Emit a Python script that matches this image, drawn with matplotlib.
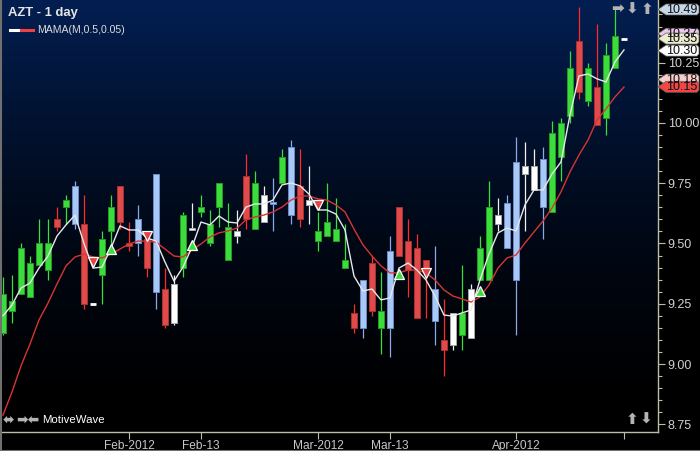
import numpy as np
import matplotlib
matplotlib.use("Agg")
import matplotlib.pyplot as plt
from matplotlib.patches import Polygon
from matplotlib.lines import Line2D

OUTPUT = "out.png"

# daily bars, one per weekday from mid Jan 2012
OPENS = [9.13, 9.22, 9.29, 9.28, 9.41, 9.39, 9.60, 9.65, 9.74, 9.58,
         9.25, 9.37, 9.55, 9.74, 9.50, 9.60, 9.52, 9.79, 9.31, 9.17,
         9.40, 9.555, 9.63, 9.50, 9.65, 9.43, 9.53, 9.78, 9.56, 9.59,
         9.672, 9.75, 9.90, 9.74, 9.66, 9.51, 9.53, 9.51, 9.40, 9.21,
         9.35, 9.42, 9.15, 9.47, 9.65, 9.51, 9.48, 9.43, 9.31, 9.10,
         9.08, 9.12, 9.11, 9.35, 9.35, 9.58, 9.67, 9.84, 9.79, 9.72,
         9.85, 9.63, 9.86, 10.03, 10.34, 10.09, 10.15, 10.02, 10.23, 10.35]
HIGHS = [9.36, 9.37, 9.50, 9.45, 9.60, 9.60, 9.65, 9.70, 9.76, 9.70,
         9.25, 9.55, 9.70, 9.74, 9.59, 9.66, 9.54, 9.79, 9.40, 9.37,
         9.63, 9.67, 9.70, 9.64, 9.75, 9.67, 9.64, 9.87, 9.80, 9.74,
         9.77, 9.89, 9.93, 9.89, 9.82, 9.63, 9.75, 9.69, 9.58, 9.25,
         9.35, 9.45, 9.38, 9.53, 9.65, 9.60, 9.54, 9.43, 9.49, 9.27,
         9.21, 9.41, 9.33, 9.53, 9.76, 9.69, 9.70, 9.94, 9.92, 9.89,
         9.90, 10.01, 10.02, 10.30, 10.48, 10.25, 10.41, 10.33, 10.48, 10.35]
LOWS = [9.12, 9.17, 9.29, 9.28, 9.41, 9.35, 9.55, 9.58, 9.56, 9.23,
        9.25, 9.25, 9.47, 9.56, 9.47, 9.45, 9.36, 9.23, 9.15, 9.16,
        9.36, 9.555, 9.61, 9.49, 9.57, 9.43, 9.50, 9.56, 9.56, 9.59,
        9.55, 9.75, 9.58, 9.57, 9.58, 9.47, 9.53, 9.51, 9.40, 9.13,
        9.11, 9.20, 9.04, 9.03, 9.45, 9.28, 9.19, 9.19, 9.08, 8.95,
        9.06, 9.06, 9.11, 9.35, 9.35, 9.55, 9.48, 9.12, 9.55, 9.72,
        9.52, 9.63, 9.76, 10.00, 10.10, 10.07, 9.99, 9.95, 10.23, 10.35]
CLOSES = [9.29, 9.26, 9.48, 9.42, 9.50, 9.50, 9.57, 9.68, 9.58, 9.25,
          9.25, 9.52, 9.65, 9.59, 9.49, 9.50, 9.40, 9.30, 9.16, 9.33,
          9.62, 9.565, 9.65, 9.58, 9.75, 9.57, 9.55, 9.60, 9.75, 9.70,
          9.664, 9.86, 9.62, 9.60, 9.68, 9.55, 9.59, 9.56, 9.43, 9.15,
          9.15, 9.22, 9.22, 9.15, 9.45, 9.39, 9.19, 9.39, 9.18, 9.06,
          9.21, 9.21, 9.31, 9.48, 9.65, 9.62, 9.48, 9.35, 9.82, 9.82,
          9.65, 9.96, 10.00, 10.23, 10.13, 10.23, 9.99, 10.28, 10.36, 10.35]
# bar colouring: G green, R red, B blue, W white
KINDS = list("GGGGGGRGBR" "WGGRRBRBRW" "GWGGGGWRGW" "BGBRWGGGGR"
             "BRGBRRRRBR" "WGWGGWBBWW" "BGGGRGRGGW")

MAMA = [9.20, 9.245, 9.315, 9.336, 9.398, 9.448, 9.531, 9.577, 9.618, 9.50,
        9.398, 9.402, 9.481, 9.573, 9.556, 9.556, 9.523, 9.510, 9.423, 9.344,
        9.402, 9.485, 9.589, 9.577, 9.614, 9.589, 9.585, 9.651, 9.664, 9.664,
        9.68, 9.743, 9.751, 9.739, 9.705, 9.639, 9.639, 9.622, 9.556, 9.365,
        9.303, 9.311, 9.266, 9.274, 9.398, 9.419, 9.390, 9.349, 9.282, 9.203,
        9.199, 9.212, 9.224, 9.349, 9.456, 9.544, 9.564, 9.552, 9.66, 9.722,
        9.722, 9.788, 9.838, 10.033, 10.195, 10.203, 10.183, 10.170, 10.253, 10.303]
FAMA = [8.788, 8.884, 8.992, 9.083, 9.183, 9.253, 9.332, 9.407, 9.444, 9.456,
        9.444, 9.44, 9.456, 9.477, 9.498, 9.510, 9.510, 9.506, 9.477, 9.448,
        9.444, 9.473, 9.498, 9.527, 9.544, 9.552, 9.564, 9.598, 9.610, 9.618,
        9.631, 9.651, 9.680, 9.697, 9.697, 9.685, 9.680, 9.660, 9.631, 9.560,
        9.494, 9.448, 9.407, 9.378, 9.378, 9.390, 9.390, 9.378, 9.349, 9.307,
        9.282, 9.270, 9.257, 9.278, 9.328, 9.398, 9.44, 9.452, 9.502, 9.548,
        9.593, 9.647, 9.714, 9.797, 9.867, 9.929, 10.012, 10.058, 10.108, 10.149]

# MAMA / FAMA cross signals
SIGNAL_BARS = [10, 12, 16, 21, 35, 44, 47, 53]
SIGNAL_PRICES = [9.423, 9.477, 9.531, 9.494, 9.660, 9.373, 9.378, 9.303]
SIGNAL_UP = [False, True, False, True, False, True, False, True]

DATE_TICKS = [14, 22, 35, 43, 57, 69]
DATE_LABELS = ["Feb-2012", "Feb-13", "Mar-2012", "Mar-13", "Apr-2012", ""]
PRICE_TICKS = [8.75, 9.00, 9.25, 9.50, 9.75, 10.00, 10.25]

# price tags on the right axis (drawn in this order, later ones on top)
TAG_VALUES = [10.49, 10.37, 10.18, 10.35, 10.30, 10.15]
TAG_COLORS = ["#c4d8ea", "#eec6ee", "#f6cccc", "#ececd0", "#ffffff", "#f04646"]

STYLE = {
    "G": ("#3ddc3d", "#249a24", "#3ae03a"),
    "R": ("#e04a4a", "#a83030", "#ff2a2a"),
    "B": ("#a8c8f6", "#6a8ac6", "#8aa8ea"),
    "W": ("#ffffff", "#a8a8a8", "#f0f0f0"),
}

W, H = 700, 451
AX_RIGHT = 658      # px, price axis line
AX_BOTTOM = 432     # px, date axis line
Y_TOP, Y_BOT = 10.510, 8.718
X_LEFT, X_RIGHT = -1 / 3, 72.78
FONT = ["Liberation Sans", "DejaVu Sans"]


def px(x, y):
    return x / W, 1 - y / H


def draw_background(ax):
    t = np.linspace(0, 1, 300)[:, None, None]
    top = np.array([0.01, 0.12, 0.32])
    grad = top * (1 - t) ** 1.6
    ax.imshow(grad, extent=[X_LEFT, X_RIGHT, Y_BOT, Y_TOP], aspect="auto",
              origin="upper", zorder=0)


def draw_candles(ax):
    x = np.arange(len(OPENS))
    o, h, l, c = map(np.array, (OPENS, HIGHS, LOWS, CLOSES))
    kinds = np.array(KINDS)
    for kind, (fill, edge, wick) in STYLE.items():
        m = kinds == kind
        ax.vlines(x[m], l[m], h[m], color=wick, lw=0.9, zorder=2)
        lo = np.minimum(o[m], c[m])
        hi = np.maximum(o[m], c[m])
        body = hi - lo
        solid = body > 0
        ax.bar(x[m][solid], body[solid], bottom=lo[solid], width=0.74,
               color=fill, edgecolor=edge, linewidth=0.7, zorder=3)
        flat = ~solid
        if flat.any():
            ax.hlines(lo[flat], x[m][flat] - 0.37, x[m][flat] + 0.37,
                      color=fill, lw=2.0, zorder=3)


def draw_mama(ax):
    x = np.arange(len(MAMA))
    ax.plot(x, FAMA, color="#d83434", lw=1.0, zorder=4)
    ax.plot(x, MAMA, color="#e8e8e8", lw=1.0, zorder=5)
    for i, p, up in zip(SIGNAL_BARS, SIGNAL_PRICES, SIGNAL_UP):
        ax.plot(i, p, marker="^" if up else "v", markersize=6.5,
                color="#3ddc3d" if up else "#e04444",
                markeredgecolor="white", markeredgewidth=0.9, zorder=6)


def draw_tags(ax):
    tr = ax.get_yaxis_transform()
    half = 5.5 / 241
    limit = Y_TOP - 4 / 241
    sx = 1 / AX_RIGHT
    for val, col in zip(TAG_VALUES, TAG_COLORS):
        cy = min(val, limit - half)
        pts = [(1, cy), (1 + 8 * sx, cy + half), (1 + 39 * sx, cy + half),
               (1 + 41 * sx, cy + half * 0.6), (1 + 41 * sx, cy - half * 0.6),
               (1 + 39 * sx, cy - half), (1 + 8 * sx, cy - half)]
        ax.add_patch(Polygon(pts, closed=True, transform=tr, clip_on=False,
                             facecolor=col, edgecolor="#606060", lw=0.5,
                             zorder=10))
        ax.text(1 + 39 * sx, cy, f"{val:.2f}", transform=tr, ha="right",
                va="center", fontsize=9, color="#101010", family=FONT,
                clip_on=False, zorder=11)


def main():
    fig = plt.figure(figsize=(W / 100, H / 100), dpi=100, facecolor="black")
    ax = fig.add_axes([0, (H - AX_BOTTOM) / H, AX_RIGHT / W, AX_BOTTOM / H])
    ax.set_facecolor("black")

    draw_background(ax)
    draw_candles(ax)
    draw_mama(ax)

    ax.set_xlim(X_LEFT, X_RIGHT)
    ax.set_ylim(Y_BOT, Y_TOP)

    axis_col = "#bdbda5"
    for side in ("top", "left"):
        ax.spines[side].set_visible(False)
    for side in ("right", "bottom"):
        ax.spines[side].set_color(axis_col)
        ax.spines[side].set_linewidth(1.0)

    ax.yaxis.tick_right()
    ax.set_yticks(PRICE_TICKS)
    ax.set_yticklabels([f"{v:.2f}" for v in PRICE_TICKS])
    ax.set_yticks(np.arange(8.75, 10.50, 0.05), minor=True)
    ax.tick_params(axis="y", which="major", length=5, width=0.8,
                   color=axis_col, labelcolor="#d0d0d0", labelsize=9, pad=2)
    ax.tick_params(axis="y", which="minor", length=3, width=0.8,
                   color=axis_col)
    ax.set_xticks(DATE_TICKS)
    ax.set_xticklabels(DATE_LABELS)
    ax.tick_params(axis="x", length=5, width=0.8, color=axis_col,
                   labelcolor="#c8c8c8", labelsize=8.6, pad=1)
    for lbl in ax.get_xticklabels() + ax.get_yticklabels():
        lbl.set_family(FONT)

    draw_tags(ax)

    # header and legend
    fig.text(*px(8, 13), "AZT - 1 day", fontsize=9.4, weight="bold",
             color="#e6e6e6", va="center", family=FONT)
    y = 1 - 30 / H
    fig.add_artist(Line2D([10 / W, 21 / W], [y, y], color="white", lw=2.2))
    fig.add_artist(Line2D([21 / W, 33 / W], [y, y], color="#f04040", lw=2.2))
    fig.text(*px(37, 30), "MAMA(M,0.5,0.05)", fontsize=7.6, color="#dcdcdc",
             va="center", family=FONT)

    # toolbar icons
    icon = dict(fontsize=11, color="#b4b4b4", va="center", ha="center",
                weight="bold", family=["DejaVu Sans"])
    fig.text(*px(617, 9), "\u27a1", **icon)
    fig.text(*px(632, 9), "\u2b07", **icon)
    fig.text(*px(647, 9), "\u2b06", **icon)
    fig.text(*px(632, 419), "\u2b06", **icon)
    fig.text(*px(646, 419), "\u2b07", **icon)
    icon["fontsize"] = 10
    fig.text(*px(8, 420), "\u2b0c", **icon)
    fig.text(*px(28, 420), "\u27a1\u2b05", **icon)
    fig.text(*px(42, 420), "MotiveWave", fontsize=8.2, color="white",
             va="center", family=FONT)

    # frame: left and bottom edges only
    fig.add_artist(Line2D([0.5 / W, 0.5 / W], [0, 1], color="#707070", lw=1.5))
    fig.add_artist(Line2D([0, 1], [0.5 / H, 0.5 / H], color="#707070", lw=1.5))

    fig.savefig(OUTPUT, dpi=100, facecolor="black")


if __name__ == "__main__":
    main()
